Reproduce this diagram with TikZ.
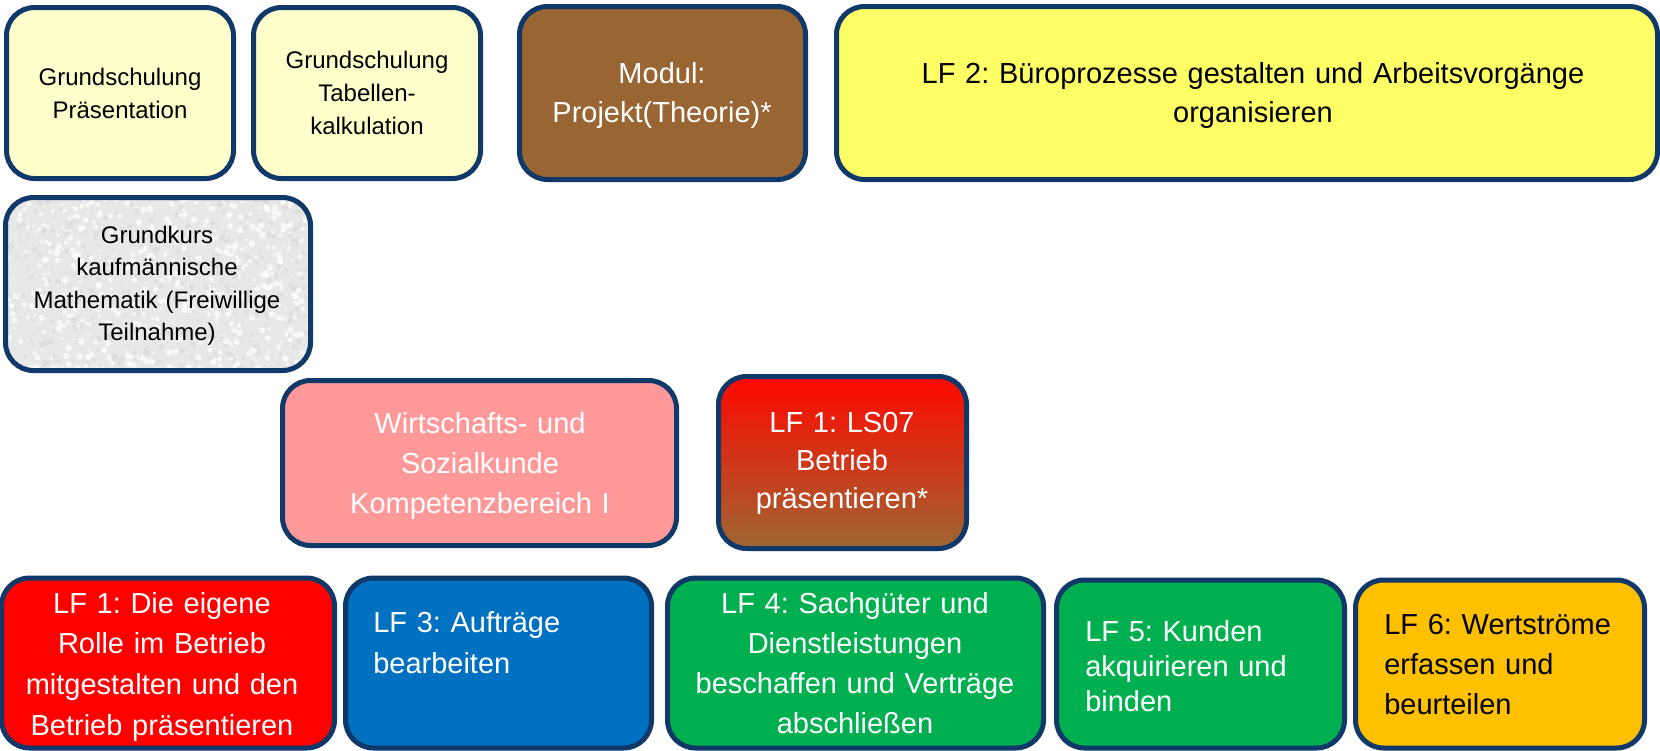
\documentclass[tikz,border=0pt]{standalone}
\usepackage{fontspec}
\setmainfont{Liberation Sans}
\frenchspacing
\definecolor{navy}{RGB}{16,56,104}
\definecolor{lightyel}{HTML}{FFFFCC}
\definecolor{brownbox}{HTML}{996633}
\definecolor{yelbox}{HTML}{FFFF66}
\definecolor{pinkbox}{HTML}{FF9999}
\definecolor{redbox}{HTML}{FF0000}
\definecolor{bluebox}{HTML}{0070C0}
\definecolor{greenbox}{HTML}{00B050}
\definecolor{orangebox}{HTML}{FFC000}
\definecolor{greybox}{HTML}{E8E8E8}
\definecolor{gradtop}{RGB}{255,8,0}
\definecolor{gradbot}{RGB}{158,102,51}
\begin{document}
\begin{tikzpicture}[x=0.75pt,y=-0.75pt,
  box/.style={draw=navy,line width=3.75pt,rounded corners=21pt,inner sep=0pt},
  ctxt/.style={inner sep=0pt,anchor=base,align=center,text width=#1},
  ltxt/.style={inner sep=0pt,anchor=base west,align=left,text width=#1},
  fa/.style={font=\fontsize{18pt}{#1}\selectfont},
  fb/.style={font=\fontsize{21.75pt}{#1}\selectfont}]
\useasboundingbox (0,0) rectangle (1660,750);
\clip (0,0) rectangle (1660,750);
% top row
\node[box,fill=lightyel,minimum width=170.25pt,minimum height=128.25pt] (b1) at (120,93) {};
\node[ctxt=160pt,fa=24.75pt] (t1) at (120,85) {Grundschulung\\Präsentation};
\node[box,fill=lightyel,minimum width=170.25pt,minimum height=128.25pt] (b2) at (367,93) {};
\node[ctxt=160pt,fa=25pt] (t2) at (367,68) {Grundschulung\\Tabellen-\\kalkulation};
\node[box,fill=brownbox,minimum width=214.5pt,minimum height=129.75pt] (b3) at (662.5,93) {};
\node[ctxt=205pt,fb=29.25pt,text=white] (t3) at (662,83) {Modul:\\Projekt(Theorie)*};
\node[box,fill=yelbox,minimum width=615.75pt,minimum height=129.75pt] (b4) at (1247,93) {};
\node[ctxt=600pt,fb=29.25pt] (t4) at (1253,83) {LF 2: Büroprozesse gestalten und Arbeitsvorgänge\\organisieren};
% grey textured box
\node[box,draw=none,outer sep=0pt,fill=greybox,minimum width=228.75pt,minimum height=129.75pt] (b5) at (158,284) {};
\begin{scope}
  \clip[rounded corners=21pt] (b5.south west) rectangle (b5.north east);
  \pgfmathsetseed{17}
  \foreach \k in {1,...,1100}{
    \pgfmathsetmacro\rx{3+310*rnd}
    \pgfmathsetmacro\ry{195+178*rnd}
    \pgfmathsetmacro\rr{1.0+2.4*rnd}
    \pgfmathsetmacro\rg{rnd}
    \ifdim\rg pt<0.55pt
      \fill[white,opacity=0.7] (\rx,\ry) circle[radius=\rr*0.75pt];
    \else
      \fill[black!16,opacity=0.45] (\rx,\ry) circle[radius=\rr*0.75pt];
    \fi
  }
\end{scope}
\draw[navy,line width=3.75pt,rounded corners=21pt] (b5.south west) rectangle (b5.north east);
\node[ctxt=225pt,fa=24.4pt] (t5) at (157,243) {Grundkurs\\kaufmännische\\Mathematik (Freiwillige\\Teilnahme)};
% middle row
\node[box,fill=pinkbox,minimum width=295.5pt,minimum height=123.75pt] (b6) at (479.5,463) {};
\node[ctxt=290pt,fb=30pt,text=white] (t6) at (480,433) {Wirtschafts- und\\Sozialkunde\\Kompetenzbereich I};
\node[box,top color=gradtop,bottom color=gradbot,minimum width=186pt,minimum height=129pt] (b7) at (842.5,462.5) {};
\node[ctxt=180pt,fb=28.5pt,text=white] (t7) at (842,432) {LF 1: LS07\\Betrieb\\präsentieren*};
% bottom row
\node[box,fill=redbox,minimum width=249.75pt,minimum height=127.5pt] (b8) at (168,663) {};
\node[ctxt=245pt,fb=30.5pt,text=white] (t8) at (162,613) {LF 1: Die eigene\\Rolle im Betrieb\\mitgestalten und den\\Betrieb präsentieren};
\node[box,fill=bluebox,minimum width=229.5pt,minimum height=127.5pt] (b9) at (498.5,663) {};
\node[ltxt=200pt,fb=30.75pt,text=white] (t9) at (373,632) {LF 3: Aufträge\\bearbeiten};
\node[box,fill=greenbox,minimum width=282pt,minimum height=127.5pt] (b10) at (855.5,663) {};
\node[ctxt=275pt,fb=30pt,text=white] (t10) at (855,613) {LF 4: Sachgüter und\\Dienstleistungen\\beschaffen und Verträge\\abschließen};
\node[box,fill=greenbox,minimum width=216pt,minimum height=126pt] (b11) at (1200.5,664) {};
\node[ltxt=200pt,fb=26.25pt,text=white] (t11) at (1085,641) {LF 5: Kunden\\akquirieren und\\binden};
\node[box,fill=orangebox,minimum width=216.75pt,minimum height=126pt] (b12) at (1500,664) {};
\node[ltxt=200pt,fb=30pt] (t12) at (1384,634) {LF 6: Wertströme\\erfassen und\\beurteilen};
\end{tikzpicture}
\end{document}
